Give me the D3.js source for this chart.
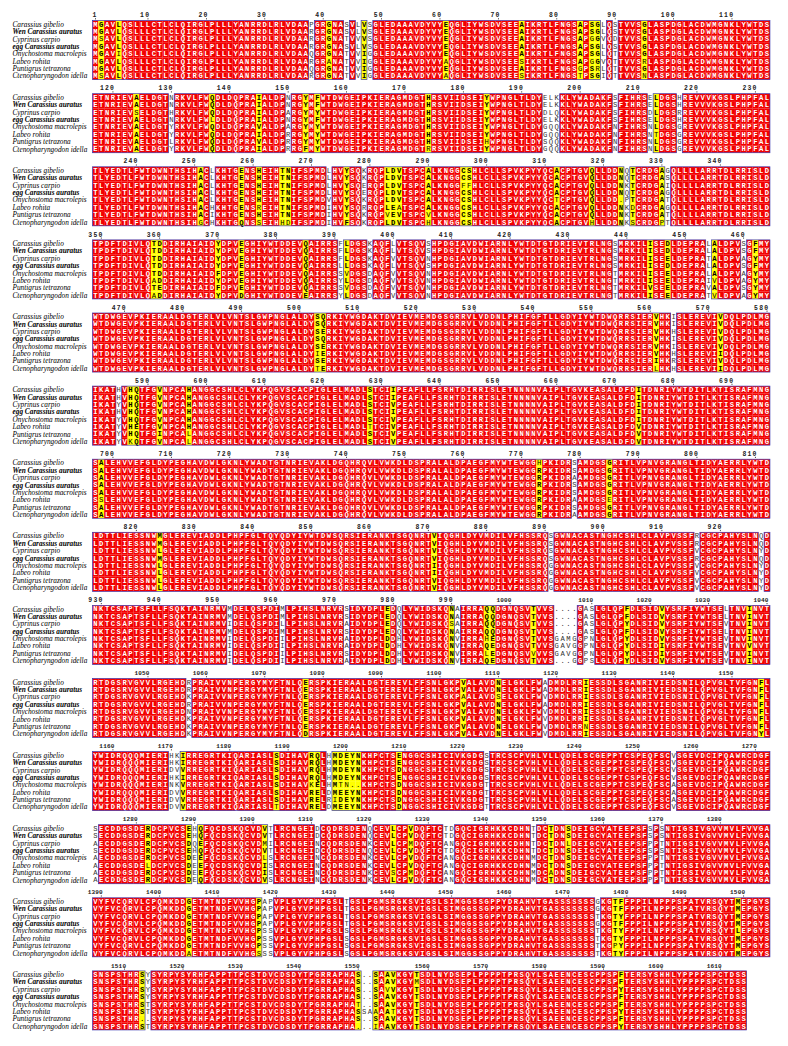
<!DOCTYPE html>
<html>
<head>
<meta charset="utf-8">
<script src="https://cdn.jsdelivr.net/npm/d3@7"></script>
<style>
  body { margin: 0; background: #fff; }
</style>
</head>
<body>
<svg id="canvas" width="788" height="1046"></svg>
<script>
// Species, top to bottom
let species = [
    "Carassius gibelio",
    "Wen Carassius auratus",
    "Cyprinus carpio",
    "egg Carassius auratus",
    "Onychostoma macrolepis",
    "Labeo rohita",
    "Puntigrus tetrazona",
    "Ctenopharyngodon idella"
]
let boldNames = ["Wen Carassius auratus", "egg Carassius auratus"]

// First sequence (Carassius gibelio), one string per alignment block
let blocks = [
    "MGAVLQSLLLCTLCLQIRGLPLLLYANRRDLRLVDAAPGRGNASVLVSGLEDAAAVDYVYEQGLIYWSDVSEEAIKRTLFNGSAPSGLQSTVVSGLASPDGLACDWMGNKLYWTDS",
    "ETNRIEVAELDGTNRKVLFWQDLDQPRAIALDPNRGYMFWTDWGEIPKIERAGMDGTHRSVIIDSEIYWPNGLTLDYELKKLYWADAKFSFIHRSELDGSHREVVVKGSLPHPFAL",
    "TLYEDTLFWTDWNTHSIHACLKHTGENSHEIHTNIFSPMDLHVYSQKRQPLDVTSPCALKNGGCSHLCLLSPVKPYYQCACPTGVQLLDDNQTCRDGAGQLLLLARRTDLRRISLD",
    "TPDFTDIVLQTDDIRHAIAIDYDPVEGHIYWTDDEVQAIRRSFLDGSKAQFLVTSQVSHPDGIAVDWIARNLYWTDTGTDRIEVTRLNGSMRKILISEDLDEPRALALDPVSGFMY",
    "WTDWGEVPKIERAALDGTERLVLVNTSLGWPNGLALDYSQRKIYWGDAKTDVIEVMEMDGSGRRVLVDDNLPHIFGFTLLGDYIYWTDWQRRSIERVHKISLEREVIVDQLPDLMG",
    "IKATHVHQTFGVNPCAHANGGCSHLCLYKPQGVSCACPIGLELMADLSTCIIPEAFLLFSRHTDIRRISLETNNNNVAIPLTGVKEASALDFDITDNRIYWTDITLKTISRAFMNG",
    "SALEHVVEFGLDYPEGHAVDWLGKNLYWADTGTNRIEVAKLDGQHRQVLVWKDLDSPRALALDPAEGFMYWTEWGGHPKIDRSAMDGSGRITLVPNVGRANGLTIDYAERRLYWTD",
    "LDTTLIESSNWMGLEREVIADDLPHPFGLTQYQDYIYWTDWSQRSIERANKTSGQNRTVIQGHLDYVMDILVFHSSRQSGWNACASTNGHCSHLCLAVPVSSFRCGCPAHYSLNQD",
    "NKTCSAPTSFLLFSQKTAINRMVMDELQSPDIMLPIHSLNRVRSIDYDPLEDQLYWIDSKQNAIRRAQQDGNQSVTVVS....GASLGLQPFDLSIDVYSRFIYWTSELTNVINVT",
    "RTDGSRVGVVLRGEHDRPRAIVVNPERGYMYFTNLQERSPKIERAALDGTEREVLFFSNLGKPVALAVDNELGKLFWADMDLRRIESSDLSGANRIVIEDSNILQPVGLTVFGNFL",
    "YWIDRQQQMIERIHKIRREGRTKIQARIASLSDIHAVRQLHMDEYNKHPCTSENGGCSHICIVKGDGSTRCSCPVHLVLLQDELSCGEPPTCSPEQFSCVSGEVDCIPQAWRCDGF",
    "SECDDGSDERDCPVCSEHQFQCDSKQCVDVTLRCNGEIDCQDRSDENQCEVLCPVDQFTCTDGQCIGRHKKCDHNTDCTDNSDEIGCYATEEPSFSPSNTIGSIVGVVMVLFVVGA",
    "VYFVCQRVLCPQMKDDGETMTNDFVVHGPAPVPLGYVPHPGSLTGSLPGMSRGKSVIGSLSIMGGSSGPPYDRAHVTGASSSSSSSGKGTFFPPILNPPPSPATVRSQYTMEPGYS",
    "SNSPSTHRSYSYRPYSYRHFAPPTTPCSTDVCDSDYTPGRRAPHAS..SAAVKGYTSDLNYDSEPLPPPPTPRSQYLSAEENCESCPPSPFTERSYSHHLYPPPPSPCTDSS"
]

// Columns where the species differ: [block, column in block (1-based), residues top to bottom]
let variableColumns = [
    [0, 2, "GGSGGGGS"], [0, 5, "LLLLILLL"], [0, 38, "PRRRQRQR"], [0, 41, "GGGGGAGG"],
    [0, 44, "SSTSTTTT"], [0, 46, "LLVLVVVV"], [0, 47, "VVVVIIII"], [0, 48, "SSSSGGGG"],
    [0, 61, "EEEEEAEA"], [0, 74, "AAAAASAS"], [0, 84, "AAAAAAGT"], [0, 86, "SSGSSGSS"],
    [0, 87, "GGGGGGRG"], [0, 88, "LLVLLVLI"], [0, 90, "SSDSTTTT"], [0, 95, "GGGGGRGN"],
    [1, 8, "AASAAAAA"], [1, 14, "NNHNYYLY"], [1, 21, "QQQLQQQQ"], [1, 29, "IIIIVIVI"],
    [1, 34, "NNANARRR"], [1, 37, "YYYYYYYF"], [1, 39, "FFYFYYYY"], [1, 58, "HHHHHHHR"],
    [1, 68, "YYYYYYHY"], [1, 78, "EEDEGGSG"], [1, 79, "LLLLQQQQ"], [1, 80, "KKQKQQQQ"],
    [1, 90, "SSSSNNNN"], [1, 96, "EEDENNNN"], [1, 97, "LLLLLTLL"], [1, 101, "HHRHGGGG"],
    [2, 19, "AAAAAAAG"], [2, 21, "LLLLLHIH"], [2, 26, "EEEEEEEQ"], [2, 29, "HHHHHRHS"],
    [2, 33, "TTTTTTTH"], [2, 34, "NNNNNNND"], [2, 41, "LLLLVIII"], [2, 44, "YYYYYYYF"],
    [2, 47, "KKEEKRKK"], [2, 51, "LLLLLLVL"], [2, 52, "DDDDDEED"], [2, 53, "VVVVVAVV"],
    [2, 58, "AAAAAAVH"], [2, 64, "CCFCCCCC"], [2, 65, "SSFSSSSS"], [2, 80, "AAAATAAA"],
    [2, 86, "QQQQQQQH"], [2, 91, "NNNN.NNN"], [2, 92, "QQKQPKKK"], [2, 93, "TTTTTDTS"],
    [2, 98, "AAAAAAAP"], [2, 99, "GSIGTGTT"],
    [3, 11, "TTTTTATA"], [3, 12, "DDDDDDED"], [3, 22, "YYYYFYFY"], [3, 26, "EEEEEEED"],
    [3, 37, "QQQQQQQE"], [3, 43, "FFFLSYSY"], [3, 44, "LLLLVLVL"], [3, 48, "KKKKDDDD"],
    [3, 52, "LLVLVVVV"], [3, 58, "SSNSNNNN"], [3, 90, "SSSSTTTT"], [3, 96, "IIIIIIVI"],
    [3, 99, "DDEDEEEE"], [3, 106, "LLTLLIVT"], [3, 107, "AAAAAVAV"], [3, 112, "SSASAASA"],
    [3, 114, "FFYFYYYY"],
    [4, 39, "SSSSSIST"], [4, 40, "QQEQEEEE"], [4, 97, "VVVVVVIL"], [4, 100, "IIHIIHRH"],
    [4, 108, "VVVVVIVI"],
    [5, 5, "HHYHYYYY"], [5, 7, "HHHHHHHK"], [5, 8, "QQQQQEQQ"], [5, 12, "VVVVVVIV"],
    [5, 17, "HHHHHHLL"], [5, 48, "SSSSSTSS"], [5, 52, "IIVIVVVV"], [5, 94, "IIIIIVVV"],
    [6, 2, "AAAAASAA"], [6, 77, "HRRRRRRR"], [6, 83, "SSASSASA"], [6, 89, "GGGGGEGG"],
    [7, 12, "MMLMLLLL"], [7, 59, "VVVVIIVV"], [7, 79, "SSSSGGGG"], [7, 104, "RRVRVVVV"],
    [7, 115, "QQYQYYYY"],
    [8, 24, "MMIMIIII"], [8, 33, "MMLMIIII"], [8, 44, "SSASAASA"], [8, 51, "EEEEDDDD"],
    [8, 53, "QQQQHHHH"], [8, 62, "NNSNNNNN"], [8, 63, "AAAAVVVV"], [8, 68, "QQQQHQLQ"],
    [8, 69, "QQQQEEEE"], [8, 76, "TTTTTTVT"], [8, 80, "....GGG."], [8, 81, "....AAA."],
    [8, 82, "....MVV."], [8, 83, "....GGGG"], [8, 85, "AAAAPPPP"], [8, 86, "SSSSNNNS"],
    [8, 92, "FFYFYYYY"], [8, 98, "VVVVVIIV"], [8, 109, "LLVLVVVV"], [8, 113, "IIIIIVII"],
    [9, 17, "RRKRNKKK"], [9, 37, "EEEEEEED"], [9, 64, "VVAVVVVV"], [9, 70, "NNSNNNNN"],
    [9, 78, "AAVAVVVV"], [9, 85, "IIIIIINI"], [9, 115, "FFFFFFFY"],
    [10, 14, "HHDHNDDD"], [10, 15, "KKVKKVVV"], [10, 16, "IIVIVVVV"], [10, 32, "SSSSSSST"],
    [10, 38, "RRRRKRRR"], [10, 39, "QQQQEEEE"], [10, 41, "HHHHHDRD"], [10, 42, "MMMMMMIM"],
    [10, 43, "DDDDTEDE"], [10, 44, "EEEENEEE"], [10, 45, "YYYY.YYY"], [10, 46, "NNNN.NNN"],
    [10, 53, "EEDEDDDD"], [10, 68, "SSSSTTTT"], [10, 100, "VVVVAAAV"],
    [11, 1, "SSASAAAA"], [11, 10, "RRRRRLRR"], [11, 17, "EEDEDDDD"], [11, 18, "HHQHEEEE"],
    [11, 19, "QQEQEEEQ"], [11, 30, "VVMVLIIV"], [11, 31, "TTITSSSS"], [11, 39, "DDNDNNNN"],
    [11, 48, "QQKQKKKK"], [11, 52, "LLLLLLSL"], [11, 55, "VVMVVVMV"], [11, 61, "TTATAAAA"],
    [11, 62, "DDNDNNNN"], [11, 76, "TTTTMMMM"], [11, 79, "TTTTTTAT"], [11, 82, "SSLSSSSS"],
    [11, 96, "SSPSPPPP"], [11, 98, "SSTSTTTT"],
    [12, 17, "GGGGGGGA"], [12, 29, "PPPPPPPS"], [12, 30, "AAAASSSS"], [12, 31, "PPPPSSSS"],
    [12, 44, "TTTTSSSS"], [12, 87, "GGTGTTTT"], [12, 90, "TTTTTTPT"], [12, 91, "FFYFYYYY"],
    [12, 111, "MMMMLMMM"],
    [13, 9, "SSSSSS.S"], [13, 10, "YYYYTT.T"], [13, 46, "SSSSTSS."], [13, 47, ".....S.."],
    [13, 48, ".....A.."], [13, 49, "SSSSSASI"], [13, 51, "AAVAAAAA"], [13, 52, "VVVVVTVV"],
    [13, 56, "TMTTTTTT"], [13, 91, "FFYFFYFY"]
]

// residue groups counted as similar
let similarGroups = ["IV", "LM", "FY", "DE", "EQ"]

let canvas = d3.select('#canvas')

let blockLength = 116
let colWidth = 5.84
let x = d3.scaleBand()
    .domain(d3.range(blockLength))
    .range([92.5, 92.5 + blockLength * colWidth])
let blockTop = d3.scaleLinear().domain([0, 1]).range([0, 73.1])
let y = d3.scaleBand()
    .domain(species)
    .range([20.6, 20.6 + species.length * 7.38])

// build the column table of each block
let columnsOf = (b) => {
    let cols = blocks[b].split('').map(c => species.map(() => c))
    variableColumns.filter(v => v[0] === b).forEach(v => {
        cols[v[1] - 1] = v[2].split('')
    })
    return cols
}

let classify = (res) => {
    if (res.every(r => r === res[0]) && res[0] !== '.') return { kind: 'id', set: res[0] }
    let sets = Array.from(new Set(res.filter(r => r !== '.'))).concat(similarGroups)
    let best = { kind: 'none', set: '', n: 0 }
    sets.forEach(s => {
        let n = res.filter(r => r !== '.' && s.includes(r)).length
        if (n > best.n) best = { kind: 'none', set: s, n: n }
    })
    if (best.n >= 6) best.kind = 'sim'
    return best
}

let residue = 0

let drawBlock = (b) => {
    let g = canvas.append('g').attr('transform', `translate(0,${blockTop(b)})`)
    let cols = columnsOf(b).map((res, i) => Object.assign({ i: i, res: res }, classify(res)))

    // ruler numbering follows the first sequence
    let ticks = []
    cols.forEach(c => {
        if (c.res[0] !== '.') {
            residue++
            if (residue === 1 || residue % 10 === 0) ticks.push({ i: c.i, n: residue })
        }
    })
    let ruler = g.selectAll('.tick').data(ticks).enter().append('g')
    ruler.append('text')
        .attr('x', d => x(d.i) + x.bandwidth() / 2 + (d.n >= 1000 ? 1.6 : 2.2))
        .attr('y', 17.3)
        .attr('text-anchor', 'end')
        .attr('font-family', 'Liberation Mono')
        .attr('font-weight', 'bold')
        .attr('font-size', d => d.n >= 1000 ? 6 : 6.4)
        .attr('letter-spacing', d => d.n >= 1000 ? 0.2 : 1.2)
        .attr('fill', '#222')
        .text(d => d.n)
    ruler.append('rect')
        .attr('x', d => x(d.i) + x.bandwidth() / 2 - 0.4)
        .attr('y', 18.2)
        .attr('width', 0.8)
        .attr('height', 1.2)
        .attr('fill', '#222')

    // names
    g.selectAll('.name').data(species).enter().append('text')
        .attr('x', 12.5)
        .attr('y', d => y(d) + y.bandwidth() / 2 + 2.5)
        .attr('font-family', 'Liberation Serif')
        .attr('font-style', 'italic')
        .attr('font-weight', d => boldNames.includes(d) ? 'bold' : 'normal')
        .attr('font-size', 7.3)
        .attr('fill', '#000')
        .text(d => d)

    // cells
    let cells = []
    cols.forEach(c => c.res.forEach((r, k) => cells.push({ i: c.i, s: species[k], r: r, kind: c.kind, member: c.set.includes(r) })))

    g.selectAll('.cell').data(cells.filter(d => d.kind !== 'none')).enter().append('rect')
        .attr('x', d => x(d.i))
        .attr('y', d => y(d.s))
        .attr('width', x.bandwidth() + 0.05)
        .attr('height', y.bandwidth() + 0.05)
        .attr('fill', d => d.kind === 'id' ? '#f20000' : '#ffff00')

    g.selectAll('.res').data(cells).enter().append('text')
        .attr('x', d => x(d.i) + x.bandwidth() / 2)
        .attr('y', d => y(d.s) + y.bandwidth() / 2 + 2.4)
        .attr('text-anchor', 'middle')
        .attr('font-family', 'Liberation Mono')
        .attr('font-weight', d => d.kind === 'id' || (d.kind === 'sim' && d.member) ? 'bold' : 'normal')
        .attr('font-size', 7.2)
        .attr('fill', d => d.kind === 'id' ? '#fff' : (d.kind === 'sim' ? '#000' : '#333'))
        .text(d => d.r)

    // blue frames around runs of conserved columns
    let runs = []
    cols.forEach(c => {
        if (c.kind === 'none') return
        let last = runs[runs.length - 1]
        if (last && last.end === c.i - 1) last.end = c.i
        else runs.push({ start: c.i, end: c.i })
    })
    g.selectAll('.frame').data(runs).enter().append('rect')
        .attr('x', d => x(d.start))
        .attr('y', y(species[0]))
        .attr('width', d => (d.end - d.start + 1) * x.bandwidth())
        .attr('height', species.length * y.bandwidth())
        .attr('fill', 'none')
        .attr('stroke', '#3b3bb3')
        .attr('stroke-width', 0.7)
}

blocks.forEach((s, b) => drawBlock(b))
</script>
</body>
</html>
